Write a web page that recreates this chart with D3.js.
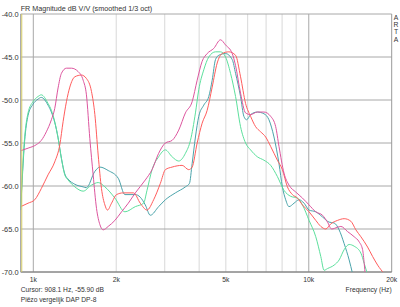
<!DOCTYPE html>
<html>
<head>
<meta charset="utf-8">
<script src="https://cdn.jsdelivr.net/npm/d3@7"></script>
<style>
  html, body { margin: 0; padding: 0; background: #fff; }
  svg { display: block; font-family: "Liberation Sans", Arial, sans-serif; }
  text { fill: #333; }
</style>
</head>
<body>
<svg id="chart" width="400" height="307"></svg>
<script>
// Axis ticks and labels
const yTicks = [-40, -45, -50, -55, -60, -65, -70];
const xLabelTicks = [1000, 2000, 5000, 10000, 20000];
const xLabels = ["1k", "2k", "5k", "10k", "20k"];
const xMinorGrid = [2000, 3000, 4000, 5000, 6000, 7000, 8000, 9000];
const xMajorGrid = [1000, 10000];
const cursorFreq = 908.1;

// Measured curves, [frequency Hz, dB]
const magenta = [
  [900, -55.9], [957, -55.6], [1025, -55.2], [1069, -54.7], [1115, -53.7], [1163, -52.3],
  [1196, -51.0], [1230, -48.6], [1265, -46.9], [1319, -46.3], [1375, -46.3], [1455, -46.7],
  [1517, -47.7], [1559, -49.4], [1604, -54.5], [1649, -58.7], [1696, -62.6], [1745, -64.5],
  [1793, -65.1], [1870, -64.7], [1978, -64.0], [2091, -63.0], [2212, -62.0], [2346, -60.8],
  [2550, -59.3], [2698, -58.1], [2851, -56.2], [3016, -55.0], [3190, -54.7], [3372, -53.5],
  [3566, -51.5], [3772, -50.2], [3934, -47.7], [4101, -45.5], [4277, -44.6], [4520, -44.0],
  [4782, -43.0], [4987, -43.6], [5274, -44.6], [5423, -46.0], [5654, -49.2], [5896, -51.5],
  [6149, -51.7], [6504, -51.4], [6875, -51.4], [7272, -51.9], [7583, -53.1], [7796, -55.4],
  [8129, -58.5], [8477, -59.9], [8967, -60.7], [9485, -61.4], [10024, -62.2], [10603, -63.0],
  [11216, -63.4], [11696, -64.2], [12100, -65.0], [12717, -64.8], [13073, -64.7], [13829, -65.3],
  [14615, -65.9], [15241, -66.5], [15681, -67.4], [15893, -69.0], [16050, -70.5]
];

const red = [
  [900, -62.4], [957, -62.0], [1012, -61.6], [1069, -60.3], [1131, -58.7], [1196, -57.2],
  [1248, -55.2], [1283, -52.5], [1319, -50.2], [1357, -48.5], [1415, -47.3], [1495, -47.1],
  [1559, -47.5], [1626, -49.0], [1673, -51.7], [1720, -56.4], [1768, -60.3], [1819, -62.2],
  [1859, -62.8], [1923, -62.0], [2005, -61.0], [2121, -60.8], [2312, -60.8], [2445, -62.0],
  [2587, -62.8], [2734, -61.6], [2892, -59.7], [3016, -58.1], [3190, -57.8], [3469, -57.6],
  [3666, -58.1], [3772, -57.8], [3934, -55.0], [4101, -52.7], [4277, -51.2], [4460, -48.5],
  [4651, -45.7], [4850, -44.6], [5126, -44.4], [5423, -44.8], [5654, -47.3], [5896, -50.4],
  [6149, -51.9], [6412, -53.1], [6687, -53.7], [6973, -54.3], [7272, -55.4], [7692, -57.0],
  [8020, -58.1], [8364, -60.1], [8722, -61.0], [9095, -61.4], [9485, -62.2], [10024, -63.0],
  [10603, -64.0], [11057, -64.7], [11530, -65.0], [12024, -64.4], [12717, -64.0], [13440, -63.8],
  [14217, -64.1], [14825, -65.1], [15459, -65.9], [16352, -67.1], [17054, -68.2], [17784, -69.2],
  [18795, -70.2]
];

const green = [
  [900, -62.5], [930, -54.4], [957, -51.5], [997, -50.2], [1040, -49.6], [1069, -49.4],
  [1131, -50.4], [1163, -51.2], [1196, -52.5], [1230, -54.4], [1265, -56.8], [1301, -58.7],
  [1338, -59.3], [1415, -60.1], [1517, -60.6], [1626, -59.9], [1720, -59.6], [1819, -60.1],
  [1978, -61.4], [2151, -63.0], [2346, -62.4], [2514, -62.0], [2587, -60.5], [2698, -58.1],
  [2851, -56.6], [3016, -55.8], [3190, -56.6], [3372, -57.1], [3566, -56.2], [3719, -54.7],
  [3878, -51.5], [3987, -48.8], [4157, -46.5], [4335, -45.0], [4585, -44.4], [4782, -44.4],
  [4987, -45.0], [5200, -46.9], [5423, -49.6], [5654, -53.1], [5896, -55.0], [6149, -55.8],
  [6504, -56.6], [6875, -57.0], [7272, -57.6], [7692, -58.9], [8129, -60.5], [8598, -61.2],
  [9095, -61.4], [9485, -62.2], [10024, -64.0], [10603, -65.9], [11057, -68.2], [11367, -69.8],
  [11696, -69.6], [12360, -69.2], [12888, -68.6], [13440, -67.4], [14016, -66.8], [14615, -67.0],
  [15459, -67.8], [15893, -69.0], [16352, -70.3]
];

const teal = [
  [900, -62.8], [930, -54.8], [957, -51.8], [997, -50.5], [1040, -49.9], [1069, -49.7],
  [1131, -50.6], [1163, -51.4], [1196, -52.6], [1230, -54.4], [1265, -56.8], [1301, -58.6],
  [1338, -59.2], [1415, -59.8], [1517, -60.1], [1559, -60.2], [1673, -58.3], [1745, -57.8],
  [1870, -58.2], [2034, -59.1], [2151, -61.0], [2346, -61.0], [2445, -61.3], [2550, -62.2],
  [2659, -63.4], [2851, -62.4], [3016, -61.6], [3279, -60.8], [3566, -60.1], [3688, -59.7],
  [3772, -57.4], [3878, -54.3], [3987, -51.9], [4157, -50.6], [4335, -49.6], [4460, -47.7],
  [4585, -45.3], [4714, -44.8], [4987, -44.6], [5274, -45.3], [5423, -46.9], [5654, -49.6],
  [5813, -51.9], [5946, -52.3], [6149, -51.7], [6504, -51.4], [6875, -51.6], [7169, -52.3],
  [7476, -54.3], [7796, -57.4], [8020, -60.1], [8245, -61.6], [8477, -62.4], [8840, -62.0],
  [9218, -61.6], [9613, -62.0], [10024, -62.8], [10603, -63.0], [11216, -63.6], [11853, -64.2],
  [12360, -64.3], [12888, -65.1], [13440, -66.7], [14016, -68.6], [14421, -70.2]
];

const series = [
  { name: "teal", color: "#4aa3aa", data: teal },
  { name: "green", color: "#5cdf9c", data: green },
  { name: "red", color: "#ff5c5c", data: red },
  { name: "magenta", color: "#dc559e", data: magenta }
];

// Plot frame
const plotLeft = 20.7, plotRight = 391.7, plotTop = 14, plotBottom = 272;

const svg = d3.select("#chart");

const x = d3.scaleLog().domain([900, 20000]).range([plotLeft, plotRight]);
const y = d3.scaleLinear().domain([-70, -40]).range([plotBottom, plotTop]);

// Clip the curves to the plot area
svg.append("clipPath").attr("id", "plotClip")
  .append("rect")
  .attr("x", plotLeft).attr("y", plotTop)
  .attr("width", plotRight - plotLeft).attr("height", plotBottom - plotTop);

// Vertical grid
svg.append("g").selectAll("line")
  .data(xMinorGrid)
  .join("line")
  .attr("x1", d => x(d)).attr("x2", d => x(d))
  .attr("y1", plotTop).attr("y2", plotBottom)
  .attr("stroke", "#d8d8d8").attr("stroke-width", 1);

svg.append("g").selectAll("line")
  .data(xMajorGrid)
  .join("line")
  .attr("x1", d => x(d)).attr("x2", d => x(d))
  .attr("y1", plotTop).attr("y2", plotBottom)
  .attr("stroke", "#a8a8a8").attr("stroke-width", 1);

// Horizontal grid
svg.append("g").selectAll("line")
  .data(yTicks)
  .join("line")
  .attr("x1", plotLeft).attr("x2", plotRight)
  .attr("y1", d => y(d)).attr("y2", d => y(d))
  .attr("stroke", "#a8a8a8").attr("stroke-width", 1);

// Frame
svg.append("line")
  .attr("x1", plotRight).attr("x2", plotRight).attr("y1", plotTop).attr("y2", plotBottom)
  .attr("stroke", "#999");
svg.append("line")
  .attr("x1", plotLeft).attr("x2", plotRight).attr("y1", plotBottom).attr("y2", plotBottom)
  .attr("stroke", "#777");
svg.append("line")
  .attr("x1", plotLeft).attr("x2", plotLeft).attr("y1", plotTop).attr("y2", plotBottom)
  .attr("stroke", "#999");

// Curves
const line = d3.line()
  .x(d => x(d[0]))
  .y(d => y(d[1]))
  .curve(d3.curveMonotoneX);

svg.append("g").attr("clip-path", "url(#plotClip)")
  .selectAll("path")
  .data(series)
  .join("path")
  .attr("d", d => line(d.data))
  .attr("fill", "none")
  .attr("stroke", d => d.color)
  .attr("stroke-width", 1);

// Cursor line
svg.append("line")
  .attr("x1", x(cursorFreq)).attr("x2", x(cursorFreq))
  .attr("y1", plotTop).attr("y2", plotBottom)
  .attr("stroke", "#d4cc66").attr("stroke-width", 1);

// Y tick labels
svg.append("g").selectAll("text")
  .data(yTicks)
  .join("text")
  .attr("x", 18.5)
  .attr("y", d => y(d) + 2.6)
  .attr("text-anchor", "end")
  .attr("font-size", 7.4)
  .text(d => d.toFixed(1));

// X tick labels
svg.append("g").selectAll("text")
  .data(xLabelTicks)
  .join("text")
  .attr("x", d => x(d))
  .attr("y", 281.5)
  .attr("text-anchor", "middle")
  .attr("font-size", 6.8)
  .text((d, i) => xLabels[i]);

// Titles and notes
svg.append("text")
  .attr("x", 20.7).attr("y", 11)
  .attr("font-size", 7.2)
  .text("FR Magnitude dB V/V (smoothed 1/3 oct)");

svg.append("text")
  .attr("x", plotRight).attr("y", 292)
  .attr("text-anchor", "end")
  .attr("font-size", 6.7)
  .text("Frequency (Hz)");

svg.append("text")
  .attr("x", 20.7).attr("y", 292.3)
  .attr("font-size", 6.7)
  .text("Cursor: 908.1 Hz, -55.90 dB");

svg.append("text")
  .attr("x", 20.7).attr("y", 301.8)
  .attr("font-size", 6.7)
  .text("Piëzo vergelijk DAP DP-8");

// ARTA, one letter per line
svg.append("g").selectAll("text")
  .data("ARTA".split(""))
  .join("text")
  .attr("x", 396)
  .attr("y", (d, i) => 20 + i * 7.2)
  .attr("text-anchor", "middle")
  .attr("font-size", 6.8)
  .text(d => d);
</script>
</body>
</html>
